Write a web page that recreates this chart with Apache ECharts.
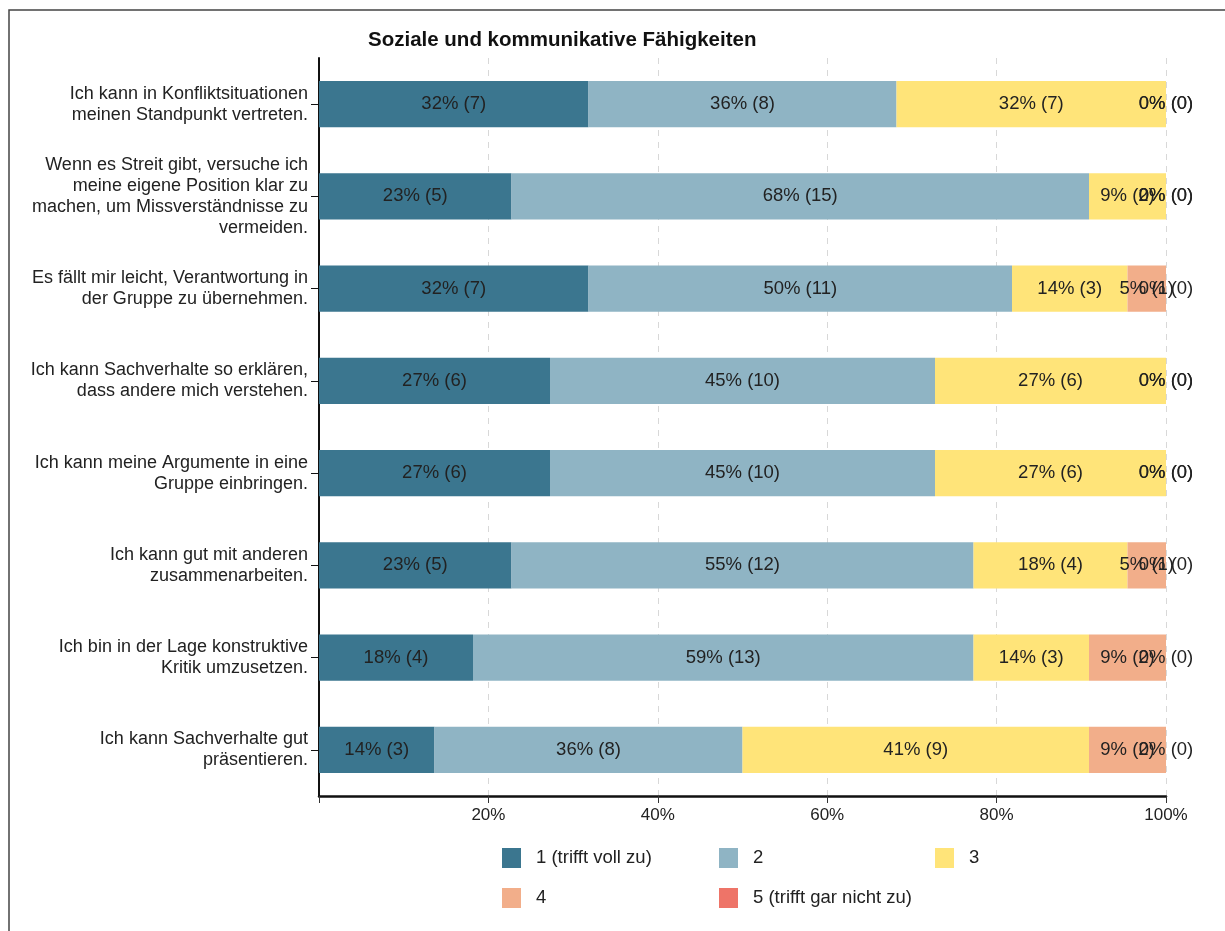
<!DOCTYPE html>
<html>
<head>
<meta charset="utf-8">
<script src="https://cdn.jsdelivr.net/npm/echarts@6/dist/echarts.min.js"></script>
<style>
  html, body { margin: 0; padding: 0; background: #fff; }
  #chart { width: 1225px; height: 931px; }
</style>
</head>
<body>
<div id="chart"></div>
<script>
var items = [
  'Ich kann in Konfliktsituationen\nmeinen Standpunkt vertreten.',
  'Wenn es Streit gibt, versuche ich\nmeine eigene Position klar zu\nmachen, um Missverständnisse zu\nvermeiden.',
  'Es fällt mir leicht, Verantwortung in\nder Gruppe zu übernehmen.',
  'Ich kann Sachverhalte so erklären,\ndass andere mich verstehen.',
  'Ich kann meine Argumente in eine\nGruppe einbringen.',
  'Ich kann gut mit anderen\nzusammenarbeiten.',
  'Ich bin in der Lage konstruktive\nKritik umzusetzen.',
  'Ich kann Sachverhalte gut\npräsentieren.'
];
var levels = ['1 (trifft voll zu)', '2', '3', '4', '5 (trifft gar nicht zu)'];
var colors = ['#3b768f', '#8fb4c4', '#ffe479', '#f2ae8a', '#ee7468'];
// counts of answers per level, one entry per item
var level1 = [7, 5, 7, 6, 6, 5, 4, 3];
var level2 = [8, 15, 11, 10, 10, 12, 13, 8];
var level3 = [7, 2, 3, 6, 6, 4, 3, 9];
var level4 = [0, 0, 1, 0, 0, 1, 2, 2];
var level5 = [0, 0, 0, 0, 0, 0, 0, 0];
var total = 22;
var xTicks = ['', '20%', '40%', '60%', '80%', '100%'];

var counts = [level1, level2, level3, level4, level5];

var myChart = echarts.init(document.getElementById('chart'));

var series = counts.map(function (arr, k) {
  return {
    name: levels[k],
    type: 'bar',
    stack: 'all',
    barWidth: '50%',
    itemStyle: { color: colors[k] },
    label: {
      show: true,
      position: 'inside',
      color: '#222',
      fontSize: 18.5,
      fontFamily: 'Liberation Sans',
      formatter: function (p) {
        return Math.round(p.value * 100) + '% (' + arr[p.dataIndex] + ')';
      }
    },
    emphasis: { disabled: true },
    data: arr.map(function (c) { return c / total; })
  };
});

var legendX = [502, 719, 935, 502, 719];
var legendY = [848, 848, 848, 888, 888];
var legends = levels.map(function (name, k) {
  return {
    data: [name],
    left: legendX[k],
    top: legendY[k],
    padding: 0,
    itemWidth: 19,
    itemHeight: 20,
    itemGap: 0,
    icon: 'rect',
    selectedMode: false,
    textStyle: { fontSize: 18.5, color: '#222', fontFamily: 'Liberation Sans', padding: [0, 0, 0, 10] }
  };
});

var option = {
  animation: false,
  color: colors,
  textStyle: { fontFamily: 'Liberation Sans' },
  title: {
    text: 'Soziale und kommunikative Fähigkeiten',
    left: 368,
    top: 30,
    padding: 0,
    textStyle: { fontSize: 20.5, fontWeight: 'bold', color: '#111', fontFamily: 'Liberation Sans' }
  },
  graphic: [{
    type: 'rect',
    shape: { x: 9, y: 10, width: 1400, height: 1000 },
    style: { fill: 'none', stroke: '#444', lineWidth: 1.5 },
    silent: true
  }],
  legend: legends,
  grid: { left: 319, right: 59, top: 58, bottom: 135 },
  xAxis: {
    type: 'value',
    min: 0,
    max: 1,
    interval: 0.2,
    axisLine: { show: true, lineStyle: { color: '#111', width: 2.5 } },
    axisTick: { show: true, length: 7, lineStyle: { color: '#333' } },
    splitLine: { show: true, lineStyle: { color: '#d8d8d8', type: [6, 6], width: 1 } },
    axisLabel: {
      color: '#222',
      fontSize: 17,
      margin: 11,
      formatter: function (v) { return xTicks[Math.round(v * 5)]; }
    }
  },
  yAxis: {
    type: 'category',
    inverse: true,
    data: items,
    axisLine: { show: true, lineStyle: { color: '#111', width: 2 } },
    axisTick: { show: true, alignWithLabel: true, length: 8, lineStyle: { color: '#111' } },
    axisLabel: { color: '#222', fontSize: 18, lineHeight: 21, align: 'right', margin: 11 }
  },
  series: series
};
myChart.setOption(option);
</script>
</body>
</html>
